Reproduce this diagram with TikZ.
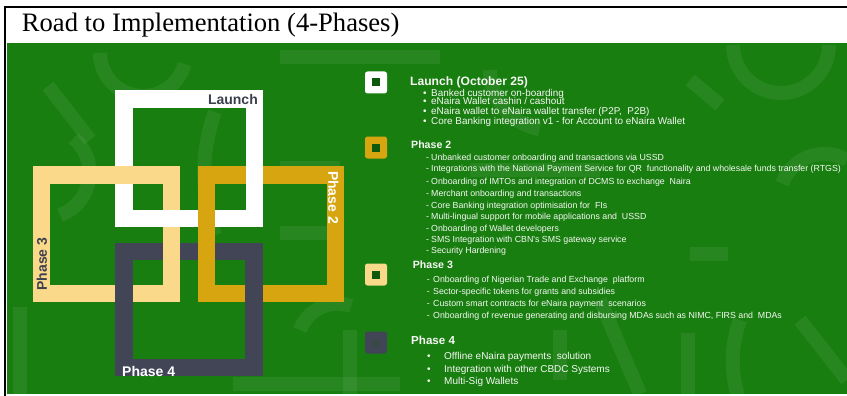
\documentclass[tikz,border=0pt]{standalone}
\usepackage{fontspec}
\setmainfont{Liberation Serif}
\newfontfamily\arsans{Liberation Sans}
\definecolor{bggreen}{RGB}{24,126,16}
\definecolor{pone}{RGB}{255,255,255}
\definecolor{pthree}{RGB}{250,218,138}
\definecolor{ptwo}{RGB}{215,165,15}
\definecolor{pfour}{RGB}{66,69,86}
\definecolor{lblgray}{RGB}{60,64,78}
\definecolor{icin}{RGB}{14,88,12}
\definecolor{txtw}{RGB}{246,248,244}
\begin{document}
\begin{tikzpicture}[x=1pt,y=-1pt,
  ring/.style={line width=17.5pt},
  wm/.style={draw=white, draw opacity=0.065, line width=14pt},
  chainlbl/.style={font=\arsans\bfseries\fontsize{14}{16}\selectfont, inner sep=0},
  hdr/.style={font=\arsans\bfseries\fontsize{#1}{#1}\selectfont, text=txtw, anchor=base west, inner sep=0},
  itm/.style={font=\arsans\fontsize{#1}{#1}\selectfont, text=txtw, anchor=base west, inner sep=0},
  iconbox/.style={fill=#1, rounded corners=2.5pt, minimum size=22pt, inner sep=0},
  iconhole/.style={fill=icin, minimum size=8pt, inner sep=0}]
\useasboundingbox (0,0) rectangle (847,396);
\fill[white] (0,0) rectangle (847,396);
% green panel
\fill[bggreen] (7,43) rectangle (847,394);
% frame lines
\draw[black, line width=2pt] (4,7) -- (847,7);
\draw[black, line width=2pt] (5,7) -- (5,396);
% title
\node[font=\fontsize{26.6}{30}\selectfont, anchor=base west, inner sep=0] (title) at (21.7,31.7) {Road to Implementation (4-Phases)};
% watermark pattern
\begin{scope}
\clip (7,43) rectangle (847,394);
\draw[wm] (100,53) arc[start angle=180, end angle=15, radius=43];
\draw[wm] (48,86) -- (90,140);
\draw[wm] (280,57) -- (440,57);
\draw[wm] (280,168) -- (340,168);
\draw[wm] (280,233) -- (340,233);
\draw[wm] (233,384) -- (400,384);
\draw[wm] (20,307) -- (20,394);
\draw[wm] (60,215) arc[start angle=250, end angle=130, radius=-45];
\draw[wm] (215,112) arc[start angle=200, end angle=160, radius=180];
\draw[wm] (733,45) arc[start angle=180, end angle=0, radius=48];
\draw[wm] (690,80) -- (720,105);
\draw[wm] (690,254) -- (728,254);
\draw[wm] (688,333) -- (688,394);
\draw[wm] (800,320) -- (847,380);
\draw[wm] (740,320) arc[start angle=200, end angle=140, radius=120];
\draw[wm] (847,160) arc[start angle=300, end angle=200, radius=45];
\draw[wm] (490,70) arc[start angle=180, end angle=100, radius=60];
\draw[wm] (560,380) -- (560,330);
\draw[wm] (600,300) -- (640,394);
\draw[wm] (470,170) -- (600,170);
\draw[wm] (350,394) -- (350,330);
\draw[wm] (300,330) arc[start angle=200, end angle=290, radius=40];
\end{scope}
% chain of rings
\draw[ring, pone] (124,99) rectangle (254.5,218.5);
\draw[ring, pfour] (124,251.5) rectangle (254,367.5);
\draw[ring, pthree] (41.5,175) rectangle (171.5,293.5);
\draw[ring, ptwo] (206.5,175) rectangle (335.5,293.5);
% over-crossings
\fill[pone] (162.75,209.75) rectangle ++(17.5,17.5);
\fill[pone] (245.75,166.25) rectangle ++(17.5,17.5);
\fill[pfour] (115.25,284.75) rectangle ++(17.5,17.5);
\fill[pfour] (245.25,284.75) rectangle ++(17.5,17.5);
% ring labels
\node[chainlbl, text=lblgray, anchor=east] (lLaunch) at (258,99.5) {Launch};
\node[chainlbl, text=white, rotate=-90] (lP2) at (333.5,197.5) {Phase 2};
\node[chainlbl, text=lblgray, rotate=90] (lP3) at (42,264) {Phase 3};
\node[chainlbl, text=white, anchor=west] (lP4) at (122,371) {Phase 4};
% legend icons
\node[iconbox=pone] (ic1) at (376,82.5) {};
\node[iconhole] (ih1) at (ic1) {};
\node[iconbox=ptwo] (ic2) at (376,147.5) {};
\node[iconhole] (ih2) at (ic2) {};
\node[iconbox=pthree] (ic3) at (376,274.5) {};
\node[iconhole] (ih3) at (ic3) {};
\node[iconbox=pfour] (ic4) at (376,342.5) {};
\node[iconhole, fill=pfour!80!icin] (ih4) at (ic4) {};
% Launch
\node[hdr=12.1] (h1) at (410,85) {Launch (October 25)};
\node[itm=9.9] (b11) at (423,96.6) {•}; \node[itm=9.9] (t11) at (431,96.6) {Banked customer on-boarding};
\node[itm=9.9] (b12) at (423,105) {•}; \node[itm=9.9] (t12) at (431,105) {eNaira Wallet cashin / cashout};
\node[itm=9.9] (b13) at (423,114.6) {•}; \node[itm=9.9] (t13) at (431,114.6) {eNaira wallet to eNaira wallet transfer (P2P,\ \ P2B)};
\node[itm=9.9] (b14) at (423,124.3) {•}; \node[itm=9.9] (t14) at (431,124.3) {Core Banking integration v1 - for Account to eNaira Wallet};
% Phase 2
\node[hdr=10.6] (h2) at (411,148.6) {Phase 2};
\foreach \yy/\t [count=\i] in {
 160.6/{Unbanked customer onboarding and transactions via USSD},
 171.9/{Integrations with the National Payment Service for QR\ \ functionality and wholesale funds transfer (RTGS)},
 184.6/{Onboarding of IMTOs and integration of DCMS to exchange\ \ Naira},
 196.6/{Merchant onboarding and transactions},
 208.6/{Core Banking integration optimisation for\ \ FIs},
 219.6/{Multi-lingual support for mobile applications and\ \ USSD},
 231.2/{Onboarding of Wallet developers},
 242.9/{SMS Integration with CBN's SMS gateway service},
 253.6/{Security Hardening}}{
 \node[itm=8.8] (d2\i) at (426,\yy) {-};
 \node[itm=8.8] (t2\i) at (431,\yy) {\t};
}
% Phase 3
\node[hdr=10.6] (h3) at (412.7,268.6) {Phase 3};
\foreach \yy/\t [count=\i] in {
 282.4/{Onboarding of Nigerian Trade and Exchange\ \ platform},
 294.5/{Sector-specific tokens for grants and subsidies},
 306.3/{Custom smart contracts for eNaira payment\ \ scenarios},
 318.3/{Onboarding of revenue generating and disbursing MDAs such as NIMC, FIRS and\ \ MDAs}}{
 \node[itm=8.8] (d3\i) at (426.7,\yy) {-};
 \node[itm=8.8] (t3\i) at (433,\yy) {\t};
}
% Phase 4
\node[hdr=11.6] (h4) at (411,344.5) {Phase 4};
\foreach \yy/\t [count=\i] in {
 359.3/{Offline eNaira payments\ \ solution},
 372.1/{Integration with other CBDC Systems},
 384.8/{Multi-Sig Wallets}}{
 \node[itm=10] (d4\i) at (427,\yy) {•};
 \node[itm=10] (t4\i) at (444,\yy) {\t};
}
\end{tikzpicture}
\end{document}
